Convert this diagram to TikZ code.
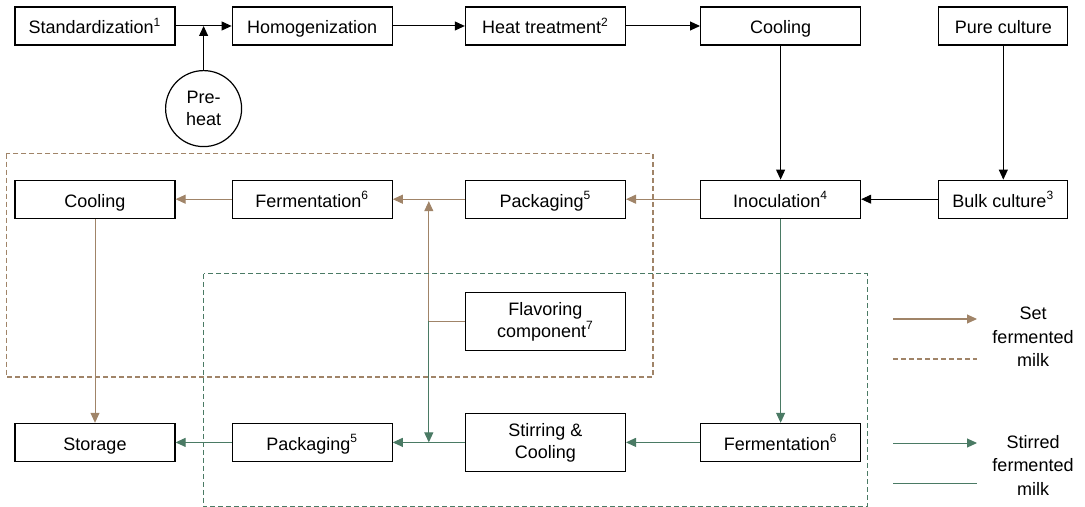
\documentclass[tikz,border=0pt]{standalone}
\usepackage{fontspec}
\setmainfont{Liberation Sans}
\usetikzlibrary{positioning,calc,arrows.meta}

\definecolor{setbrown}{RGB}{160,132,104}
\definecolor{stirgreen}{RGB}{74,122,100}

\def\dy{67pt}
\def\dyy{102pt}

\begin{document}
\begin{tikzpicture}[
    stepbox/.style={draw,line width=0.6pt,minimum width=80pt,minimum height=19pt,inner sep=1pt,align=center,
      text height=8.4pt,text depth=0.5pt,font=\fontsize{9}{11}\selectfont},
    smallbox/.style={stepbox,minimum width=64.5pt},
    tallbox/.style={stepbox,text height={},text depth={},minimum height=29pt},
    heatcirc/.style={draw,circle,line width=0.6pt,minimum size=38pt,inner sep=0pt,align=center,
      font=\fontsize{9}{11}\selectfont},
    >={Triangle[length=5pt,width=4.5pt]},
    flow/.style={->,line width=0.5pt},
    setflow/.style={->,line width=0.5pt,setbrown},
    stirflow/.style={->,line width=0.5pt,stirgreen},
    setarea/.style={draw=setbrown,line width=0.6pt,dash pattern=on 2.5pt off 1.5pt},
    stirarea/.style={draw=stirgreen,line width=0.6pt,dash pattern=on 2.5pt off 1.5pt},
    legend/.style={align=center,font=\fontsize{9}{11.75}\selectfont}]

    \useasboundingbox (0,0) rectangle (542.5pt,-253.5pt);

    % row 1
    \node[stepbox] (std) at (47.5pt,-13pt) {Standardization\textsuperscript{1}};
    \node[stepbox] (hom) [right=28pt of std] {Homogenization};
    \node[stepbox] (heat) [right=36pt of hom] {Heat treatment\textsuperscript{2}};
    \node[stepbox] (cool1) [right=37pt of heat] {Cooling};
    \node[smallbox] (pure) [right=38.5pt of cool1] {Pure culture};

    \coordinate (mid) at ($(std.east)!.5!(hom.west)$);
    \node[heatcirc] (pre) [below=22pt of mid] {Pre-\\heat};

    % row 2
    \node[stepbox] (cool2) [below=\dy of std] {Cooling};
    \node[stepbox] (ferm1) [below=\dy of hom] {Fermentation\textsuperscript{6}};
    \node[stepbox] (pack1) [below=\dy of heat] {Packaging\textsuperscript{5}};
    \node[stepbox] (inoc) [below=\dy of cool1] {Inoculation\textsuperscript{4}};
    \node[smallbox] (bulk) [below=\dy of pure] {Bulk culture\textsuperscript{3}};

    \node[tallbox] (flav) [below=36.5pt of pack1] {Flavoring\\component\textsuperscript{7}};

    % row 3
    \node[stepbox] (stor) [below=\dyy of cool2] {Storage};
    \node[stepbox] (pack2) [below=\dyy of ferm1] {Packaging\textsuperscript{5}};
    \node[tallbox] (stir) [below=97pt of pack1] {Stirring \&\\Cooling};
    \node[stepbox] (ferm2) [below=\dyy of inoc] {Fermentation\textsuperscript{6}};

    % common line
    \draw[line width=0.5pt] (std) -- (mid);
    \draw[flow] (mid) -- (hom);
    \draw[flow] (pre) -- (mid);
    \draw[flow] (hom) -- (heat);
    \draw[flow] (heat) -- (cool1);
    \draw[flow] (cool1) -- (inoc);
    \draw[flow] (pure) -- (bulk);
    \draw[flow] (bulk) -- (inoc);

    % set fermented milk
    \coordinate (jset) at ($(ferm1.east)!.5!(pack1.west)$);
    \coordinate (jflav) at (jset |- flav.west);
    \draw[setflow] (inoc) -- (pack1);
    \draw[setflow] (pack1) -- (ferm1);
    \draw[setflow] (ferm1) -- (cool2);
    \draw[setflow] (cool2) -- (stor);
    \draw[setflow] (flav.west) -- (jflav) -- ([yshift=-1pt]jset);

    % stirred fermented milk
    \draw[stirflow] (inoc) -- (ferm2);
    \draw[stirflow] (ferm2) -- (stir);
    \draw[stirflow] (stir) -- (pack2);
    \draw[stirflow] (pack2) -- (stor);
    \draw[stirflow] (jflav) -- (jflav |- pack2.east);

    % areas
    \draw[setarea] ($(cool2.north west)+(-4pt,13pt)$) rectangle ($(pack1.east |- flav.south)+(13.5pt,-13pt)$);
    \draw[stirarea] ($(mid |- flav.north)+(0,9pt)$) rectangle ($(ferm2.east |- stir.south)+(3pt,-17.5pt)$);

    % legend
    \node[legend] (setlbl) at (516.5pt,-168.5pt) {Set\\fermented\\milk};
    \node[legend] (stirlbl) at (516.5pt,-232.5pt) {Stirred\\fermented\\milk};
    \coordinate (lg1a) at (446.5pt,-159.5pt);
    \coordinate (lg1b) at (488.5pt,-159.5pt);
    \coordinate (lg2a) at (446.5pt,-179.5pt);
    \coordinate (lg2b) at (488.5pt,-179.5pt);
    \coordinate (lg3a) at (446.5pt,-221.5pt);
    \coordinate (lg3b) at (488.5pt,-221.5pt);
    \coordinate (lg4a) at (446.5pt,-241.5pt);
    \coordinate (lg4b) at (488.5pt,-241.5pt);
    \draw[setflow] (lg1a) -- (lg1b);
    \draw[setarea] (lg2a) -- (lg2b);
    \draw[stirflow] (lg3a) -- (lg3b);
    \draw[line width=0.5pt,stirgreen] (lg4a) -- (lg4b);

\end{tikzpicture}
\end{document}
